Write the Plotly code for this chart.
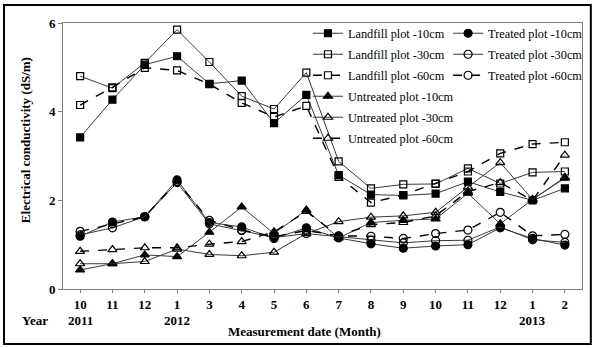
import plotly.graph_objects as go

months = ["10", "11", "12", "1", "3", "4", "5", "6", "7", "8", "9", "10", "11", "12", "1", "2"]
years = [("2011", 0), ("2012", 3), ("2013", 14)]

landfill_10 = [3.42, 4.27, 5.06, 5.25, 4.63, 4.70, 3.74, 4.38, 2.57, 2.13, 2.11, 2.15, 2.42, 2.19, 2.00, 2.27]
landfill_30 = [4.80, 4.53, 5.10, 5.85, 5.12, 4.35, 4.06, 4.88, 2.88, 2.27, 2.36, 2.37, 2.72, 2.38, 2.63, 2.65]
landfill_60 = [4.15, 4.55, 4.99, 4.93, 4.62, 4.20, 3.88, 4.13, 2.53, 1.95, 2.12, 2.38, 2.65, 3.06, 3.27, 3.31]
treated_10 = [1.19, 1.51, 1.63, 2.46, 1.50, 1.40, 1.14, 1.38, 1.15, 1.02, 0.92, 0.97, 1.00, 1.38, 1.14, 0.99]
treated_30 = [1.22, 1.38, 1.63, 2.40, 1.47, 1.32, 1.16, 1.25, 1.18, 1.10, 1.04, 1.09, 1.10, 1.40, 1.11, 1.05]
treated_60 = [1.30, 1.47, 1.63, 2.42, 1.55, 1.33, 1.18, 1.32, 1.20, 1.19, 1.14, 1.25, 1.33, 1.73, 1.20, 1.23]
untreated_10 = [0.43, 0.57, 0.77, 0.73, 1.28, 1.85, 1.25, 1.78, 1.15, 1.50, 1.55, 1.58, 2.16, 1.47, 2.02, 2.50]
untreated_30 = [0.57, 0.57, 0.62, 0.90, 0.78, 0.75, 0.83, 1.25, 1.52, 1.62, 1.65, 1.73, 2.30, 2.85, 2.02, 2.52]
untreated_60 = [0.85, 0.89, 0.93, 0.93, 1.01, 1.07, 1.29, 1.75, 1.20, 1.45, 1.50, 1.65, 2.20, 2.40, 2.00, 3.02]

x = list(range(len(months)))
SERIF = "Liberation Serif, Times New Roman, serif"

series = [
    ("Landfill plot -10cm", landfill_10, "square", "solid", "legend"),
    ("Landfill plot -30cm", landfill_30, "square-open", "solid", "legend"),
    ("Landfill plot -60cm", landfill_60, "square-open", "dash", "legend"),
    ("Untreated plot -10cm", untreated_10, "triangle-up", "solid", "legend"),
    ("Untreated plot -30cm", untreated_30, "triangle-up-open", "solid", "legend"),
    ("Untreated plot -60cm", untreated_60, "triangle-up-open", "dash", "legend"),
    ("Treated plot -10cm", treated_10, "circle", "solid", "legend2"),
    ("Treated plot -30cm", treated_30, "circle-open", "solid", "legend2"),
    ("Treated plot -60cm", treated_60, "circle-open", "dash", "legend2"),
]

fig = go.Figure()
for name, vals, sym, dash, leg in series:
    size = 7 if sym.startswith("square") else 8
    fig.add_trace(go.Scatter(
        x=x, y=vals, name=name, mode="lines+markers",
        legend=leg, legendgroup=name,
        line=dict(color="#000000" if dash == "dash" else "#3a3a3a",
                  width=1.4 if dash == "dash" else 1, dash=dash),
        marker=dict(symbol=sym, size=size, color="#000000",
                    line=dict(color="#000000", width=1.2)),
    ))

axis_font = dict(family=SERIF, size=13, color="#000000")
fig.update_layout(
    width=595, height=348,
    margin=dict(l=63, r=13, t=23, b=59, autoexpand=False),
    paper_bgcolor="white", plot_bgcolor="white",
    showlegend=True,
    legend=dict(x=0.472, y=1.016, xanchor="left", yanchor="top",
                font=dict(family=SERIF, size=12.3, color="#000000"),
                bgcolor="rgba(0,0,0,0)", tracegroupgap=2, itemwidth=30),
    legend2=dict(x=0.742, y=1.016, xanchor="left", yanchor="top",
                 font=dict(family=SERIF, size=12.3, color="#000000"),
                 bgcolor="rgba(0,0,0,0)", tracegroupgap=2, itemwidth=30),
    xaxis=dict(range=[-0.53, 15.53], tickmode="array", tickvals=x, ticktext=months,
               showgrid=False, zeroline=False, showline=True, linecolor="#7f7f7f",
               linewidth=1, mirror=True, ticks="outside", ticklen=3, tickcolor="#7f7f7f",
               automargin=False,
               tickfont=dict(family=SERIF, size=13, color="#000000", weight="bold")),
    yaxis=dict(range=[0, 6], tickvals=[0, 2, 4, 6], showgrid=False, zeroline=False,
               showline=True, linecolor="#7f7f7f", linewidth=1, mirror=True,
               ticks="outside", ticklen=4, tickcolor="#7f7f7f", automargin=False,
               tickfont=dict(family=SERIF, size=13, color="#000000", weight="bold")),
)

annotations = []
for yr, idx in years:
    annotations.append(dict(x=idx, y=-0.118, xref="x", yref="paper", text="<b>%s</b>" % yr,
                            showarrow=False, font=axis_font, xanchor="center", yanchor="middle"))
annotations.append(dict(x=-0.025, y=-0.118, xref="paper", yref="paper", text="<b>Year</b>",
                        showarrow=False, font=axis_font, xanchor="right", yanchor="middle"))
annotations.append(dict(x=0.465, y=-0.158, xref="paper", yref="paper",
                        text="<b>Measurement date (Month)</b>", showarrow=False,
                        font=axis_font, xanchor="center", yanchor="middle"))
annotations.append(dict(x=-0.073, y=0.56, xref="paper", yref="paper",
                        text="<b>Electrical conductivity (dS/m)</b>", textangle=-90,
                        showarrow=False, font=axis_font, xanchor="center", yanchor="middle"))
fig.update_layout(annotations=annotations)

fig.add_shape(type="rect", xref="paper", yref="paper",
              x0=-0.1137, x1=1.017, y0=-0.2068, y1=1.0677,
              line=dict(color="#000000", width=2), fillcolor="rgba(0,0,0,0)", layer="above")

fig.write_html("out.html", config={"displayModeBar": False},
               post_script="document.body.style.margin='0';document.body.style.overflow='hidden';")
